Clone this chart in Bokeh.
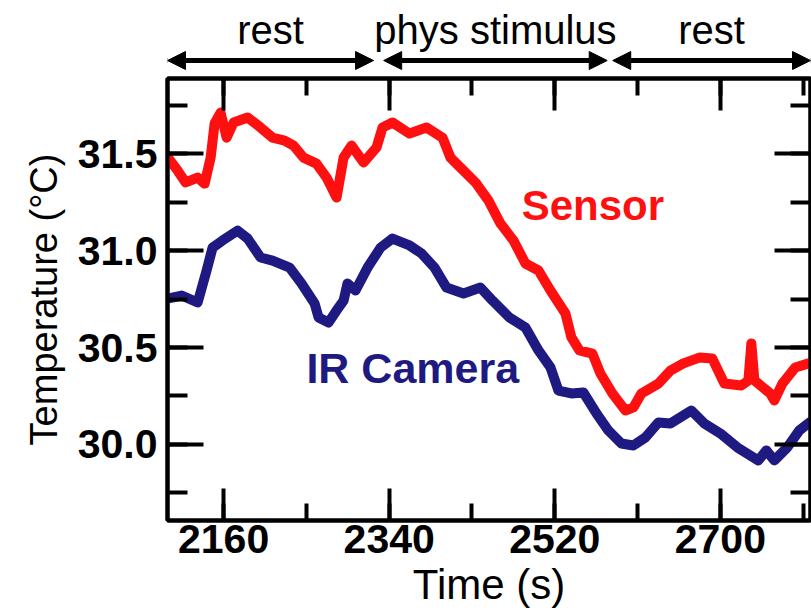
from bokeh.plotting import figure
from bokeh.layouts import column
from bokeh.models import (Range1d, LinearAxis, SingleIntervalTicker, PrintfTickFormatter,
                          CustomJSTickFormatter, Arrow, NormalHead, Label)
from bokeh.embed import file_html
from bokeh.resources import INLINE

# ---- data ----
sensor_t = [2100.2, 2110.0, 2118.7, 2131.8, 2139.4, 2145.9, 2150.2, 2156.7, 2163.3, 2170.9,
            2186.1, 2200.2, 2213.2, 2226.3, 2236.1, 2246.9, 2261.0, 2271.9, 2282.8, 2290.4,
            2299.1, 2312.1, 2326.2, 2332.8, 2343.6, 2362.1, 2380.6, 2398.0, 2406.6, 2420.8,
            2433.8, 2447.9, 2461.0, 2475.1, 2488.1, 2502.3, 2515.3, 2531.6, 2538.1, 2546.8,
            2560.9, 2569.6, 2582.7, 2596.8, 2605.5, 2614.2, 2632.6, 2645.7, 2659.8, 2677.2,
            2691.3, 2704.4, 2722.8, 2730.5, 2733.7, 2737.0, 2754.3, 2758.7, 2767.4, 2781.5,
            2796.0]
sensor_v = [31.474, 31.412, 31.351, 31.376, 31.345, 31.479, 31.655, 31.711, 31.582, 31.660,
            31.686, 31.634, 31.582, 31.567, 31.541, 31.479, 31.448, 31.376, 31.273, 31.479,
            31.541, 31.454, 31.531, 31.634, 31.660, 31.603, 31.634, 31.582, 31.479, 31.412,
            31.351, 31.258, 31.139, 31.052, 30.933, 30.897, 30.794, 30.675, 30.552, 30.485,
            30.469, 30.366, 30.263, 30.175, 30.191, 30.263, 30.314, 30.381, 30.418, 30.448,
            30.443, 30.314, 30.304, 30.330, 30.521, 30.330, 30.263, 30.227, 30.314, 30.397,
            30.418]

camera_t = [2100.2, 2114.4, 2131.8, 2141.5, 2148.0, 2158.9, 2175.2, 2186.1, 2200.2, 2213.2,
            2231.7, 2244.7, 2258.9, 2263.2, 2274.1, 2282.8, 2290.4, 2294.7, 2303.4, 2316.5,
            2330.6, 2343.6, 2362.1, 2375.1, 2389.3, 2402.3, 2420.8, 2439.2, 2452.3, 2470.7,
            2488.1, 2502.3, 2515.3, 2524.0, 2538.1, 2551.1, 2565.3, 2578.3, 2592.4, 2605.5,
            2618.5, 2632.6, 2645.7, 2668.5, 2682.6, 2700.0, 2718.5, 2741.3, 2750.0, 2758.7,
            2772.8, 2785.8, 2796.7]
camera_v = [30.753, 30.768, 30.732, 30.897, 31.015, 31.052, 31.103, 31.062, 30.964, 30.948,
            30.912, 30.830, 30.727, 30.655, 30.629, 30.691, 30.742, 30.830, 30.794, 30.912,
            31.015, 31.062, 31.026, 30.985, 30.912, 30.809, 30.778, 30.809, 30.742, 30.655,
            30.603, 30.485, 30.397, 30.278, 30.263, 30.268, 30.160, 30.072, 30.005, 29.995,
            30.036, 30.113, 30.108, 30.175, 30.108, 30.057, 29.985, 29.918, 29.969, 29.918,
            29.985, 30.072, 30.113]

phase_names = ["rest", "phys stimulus", "rest"]
phase_start = [2099, 2334, 2583]
phase_end = [2323, 2577, 2798]

x_ticks_interval = 180
y_ticks_interval = 0.5

FONT = "Liberation Sans"
RED = "#ff1010"
BLUE = "#1e1a82"

W = 811
TOP_H = 70
MAIN_H = 542

x_range = Range1d(2099, 2798)

# ---- header strip with the phase arrows ----
head = figure(width=W, height=TOP_H, output_backend="svg", toolbar_location=None,
              x_range=x_range, y_range=Range1d(0, TOP_H),
              x_axis_location=None, y_axis_location=None,
              min_border_left=167, min_border_right=1, min_border_top=0, min_border_bottom=0)
head.grid.visible = False
head.outline_line_color = None

arrow_y = 10
label_y = 41
for name, s, e in zip(phase_names, phase_start, phase_end):
    head.add_layout(Arrow(x_start=s, y_start=arrow_y, x_end=e, y_end=arrow_y,
                          start=NormalHead(size=18, fill_color="black", line_color="black"),
                          end=NormalHead(size=18, fill_color="black", line_color="black"),
                          line_width=5, line_color="black"))
    head.add_layout(Label(x=(s + e) / 2, y=label_y, text=name, text_align="center",
                          text_baseline="alphabetic", text_font=FONT, text_font_size="40px",
                          text_color="black"))

# ---- main plot ----
p = figure(width=W, height=MAIN_H, output_backend="svg", toolbar_location=None,
           x_range=x_range, y_range=Range1d(29.608, 31.887),
           min_border_left=167, min_border_right=1, min_border_top=8, min_border_bottom=92)
p.grid.visible = False
p.outline_line_color = "black"
p.outline_line_width = 4
p.background_fill_color = "white"

p.line(sensor_t, sensor_v, line_color=RED, line_width=10, line_join="round", line_cap="round")
p.line(camera_t, camera_v, line_color=BLUE, line_width=10, line_join="round", line_cap="round")

def style_axis(ax, tick_in, minor_in, labels=True, standoff=10):
    ax.axis_line_width = 4
    ax.axis_line_color = "black"
    ax.major_tick_in = tick_in
    ax.major_tick_out = 0
    ax.minor_tick_in = minor_in
    ax.minor_tick_out = 0
    ax.major_tick_line_width = 4
    ax.minor_tick_line_width = 4
    ax.major_tick_line_color = "black"
    ax.minor_tick_line_color = "black"
    if labels:
        ax.major_label_text_font = FONT
        ax.major_label_text_font_style = "bold"
        ax.major_label_text_font_size = "41px"
        ax.major_label_text_color = "black"
        ax.major_label_standoff = standoff
    else:
        ax.formatter = CustomJSTickFormatter(code="return ''")
        ax.major_label_text_font_size = "1px"
        ax.major_label_standoff = 0

xa = p.xaxis[0]
xa.ticker = SingleIntervalTicker(interval=x_ticks_interval, num_minor_ticks=2)
style_axis(xa, 32, 17, standoff=4)
xa.axis_label = "Time (s)"
xa.axis_label_text_font = FONT
xa.axis_label_text_font_style = "normal"
xa.axis_label_text_font_size = "42px"
xa.axis_label_text_color = "black"
xa.axis_label_standoff = 5

ya = p.yaxis[0]
ya.ticker = SingleIntervalTicker(interval=y_ticks_interval, num_minor_ticks=2)
ya.formatter = PrintfTickFormatter(format="%.1f")
style_axis(ya, 36, 20, standoff=10)
ya.axis_label = "Temperature (°C)"
ya.axis_label_text_font = FONT
ya.axis_label_text_font_style = "normal"
ya.axis_label_text_font_size = "38px"
ya.axis_label_text_color = "black"
ya.axis_label_standoff = 10

top = LinearAxis(ticker=SingleIntervalTicker(interval=x_ticks_interval, num_minor_ticks=2))
style_axis(top, 32, 17, labels=False)
p.add_layout(top, "above")
right = LinearAxis(ticker=SingleIntervalTicker(interval=y_ticks_interval, num_minor_ticks=2))
style_axis(right, 36, 20, labels=False)
p.add_layout(right, "right")

p.add_layout(Label(x=2484, y=31.232, text="Sensor", text_font=FONT, text_font_style="bold",
                   text_font_size="42px", text_color=RED, text_baseline="alphabetic"))
p.add_layout(Label(x=2250, y=30.392, text="IR Camera", text_font=FONT, text_font_style="bold",
                   text_font_size="43px", text_color=BLUE, text_baseline="alphabetic"))

layout = column(head, p, spacing=0)
open("out.html", "w").write(file_html(layout, INLINE))
